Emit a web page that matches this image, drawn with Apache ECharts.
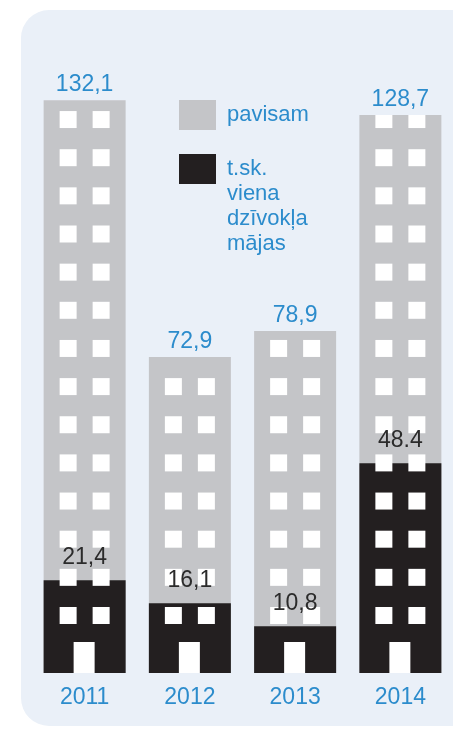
<!DOCTYPE html>
<html>
<head>
<meta charset="utf-8">
<script src="https://cdn.jsdelivr.net/npm/echarts@6/dist/echarts.min.js"></script>
<style>
  html, body { margin: 0; padding: 0; background: #fff; }
  #chart { width: 453px; height: 729px; }
</style>
</head>
<body>
<div id="chart"></div>
<script>
  // data
  var years = ['2011', '2012', '2013', '2014']
  var totalValues = [132.1, 72.9, 78.9, 128.7]
  var singleValues = [21.4, 16.1, 10.8, 48.4]
  var totalLabels = ['132,1', '72,9', '78,9', '128,7']
  var singleLabels = ['21,4', '16,1', '10,8', '48.4']

  var blue = '#2c8ccc'
  var gray = '#c4c5c8'
  var black = '#231f20'
  var font = '"Liberation Sans", Arial, sans-serif'

  var myChart = echarts.init(document.getElementById('chart'))

  // windows + door drawn on top of each building
  function renderWindows(params, api) {
    var i = api.value(0)
    var top = api.coord([i, api.value(1)])[1]
    var base = api.coord([i, 0])
    var cx = base[0], by = base[1]
    var children = []
    var pitch = 38.15
    for (var k = 0; ; k++) {
      var wb = by - 49 - k * pitch
      var wt = wb - 17
      if (wb <= top) break
      var y0 = Math.max(wt, top)
      children.push({ type: 'rect', shape: { x: cx - 25, y: y0, width: 17, height: wb - y0 }, style: { fill: '#fff' } })
      children.push({ type: 'rect', shape: { x: cx + 8, y: y0, width: 17, height: wb - y0 }, style: { fill: '#fff' } })
    }
    children.push({ type: 'rect', shape: { x: cx - 11, y: by - 31, width: 21, height: 31 }, style: { fill: '#fff' } })
    return { type: 'group', children: children }
  }

  var legendText = { color: blue, fontSize: 22, lineHeight: 25, fontFamily: font, padding: [0, 0, 0, 6] }

  var option = {
    animation: false,
    graphic: [{
      type: 'rect',
      z: -10,
      shape: { x: 21, y: 10, width: 460, height: 716, r: 28 },
      style: { fill: '#eaf0f8' }
    }],
    legend: [
      {
        orient: 'vertical', left: 179, top: 100, padding: 0,
        itemWidth: 37, itemHeight: 30, icon: 'rect',
        textStyle: legendText,
        data: ['pavisam']
      },
      {
        // blank lines on top keep the first text line level with the icon
        orient: 'vertical', left: 179, top: 81.5, padding: 0,
        itemWidth: 37, itemHeight: 30, icon: 'rect',
        textStyle: legendText,
        formatter: function (name) { return '\n\n\n' + name.split(' ').join('\n') },
        data: ['t.sk. viena dzīvokļa mājas']
      }
    ],
    grid: { left: 32, top: 66, width: 426, height: 607 },
    xAxis: {
      type: 'category',
      data: years,
      axisLine: { show: false },
      axisTick: { show: false },
      axisLabel: { color: blue, fontSize: 23, fontFamily: font, margin: 13 }
    },
    yAxis: { type: 'value', min: 0, max: 140, show: false, splitLine: { show: false } },
    series: [
      {
        name: 'pavisam', type: 'bar', data: totalValues, barWidth: 82, barGap: '-100%',
        itemStyle: { color: gray }, z: 2
      },
      {
        name: 't.sk. viena dzīvokļa mājas', type: 'bar', data: singleValues, barWidth: 82, barGap: '-100%',
        itemStyle: { color: black }, z: 3
      },
      {
        name: 'windows', type: 'custom', renderItem: renderWindows, clip: false, silent: true, z: 4,
        encode: { x: 0, y: 1 },
        data: totalValues.map(function (v, i) { return [i, v] })
      },
      {
        name: 'totalLabel', type: 'bar', data: totalValues, barWidth: 82, barGap: '-100%', silent: true, z: 5,
        itemStyle: { color: 'rgba(0,0,0,0)' },
        label: {
          show: true, position: 'top', distance: 4, color: blue, fontSize: 23, fontFamily: font,
          formatter: function (p) { return totalLabels[p.dataIndex] }
        }
      },
      {
        name: 'singleLabel', type: 'bar', data: singleValues, barWidth: 82, barGap: '-100%', silent: true, z: 5,
        itemStyle: { color: 'rgba(0,0,0,0)' },
        label: {
          show: true, position: 'top', distance: 11, color: '#2b2b2b', fontSize: 23, fontFamily: font,
          formatter: function (p) { return singleLabels[p.dataIndex] }
        }
      }
    ]
  }
  myChart.setOption(option)
</script>
</body>
</html>
